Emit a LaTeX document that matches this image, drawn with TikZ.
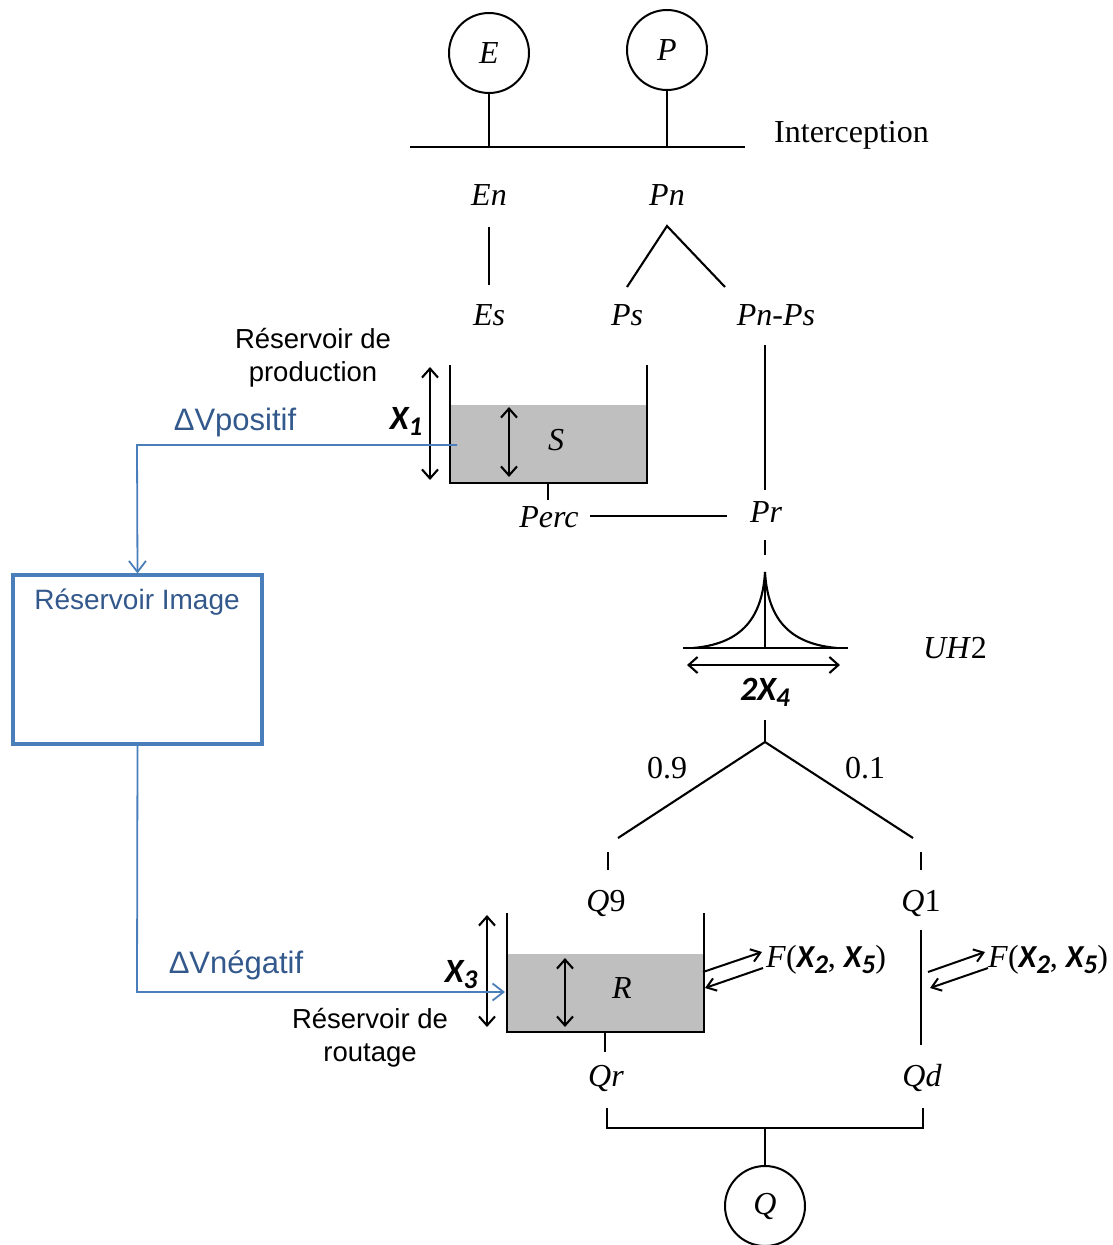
\documentclass[tikz,border=0pt]{standalone}
\usepackage{fontspec}
\setmainfont{Liberation Serif}
\setsansfont{Liberation Sans}
\newfontfamily\calfont{Carlito}
\usetikzlibrary{arrows.meta}
\definecolor{lineblue}{RGB}{74,126,187}
\definecolor{textblue}{RGB}{50,88,140}
\definecolor{resgray}{RGB}{191,191,191}
\newcommand{\Xs}[1]{{\calfont\bfseries\itshape X\raisebox{-6pt}{\fontsize{27}{27}\selectfont #1}}}
\begin{document}
\begin{tikzpicture}[x=1pt,y=-1pt,
  ln/.style={line width=2.1pt, black},
  dar/.style={line width=2.1pt, {Straight Barb[length=9pt,width=16pt,line width=2.1pt]}-{Straight Barb[length=9pt,width=16pt,line width=2.1pt]}},
  sar/.style={line width=2pt, -{Straight Barb[length=9pt,width=13pt,line width=2pt]}},
  bl/.style={line width=1.8pt, lineblue, -{Straight Barb[length=11pt,width=17pt,line width=1.8pt]}},
  circ/.style={circle, draw, line width=2pt, minimum size=80pt, inner sep=0pt, font=\fontsize{32}{34}\selectfont\itshape},
  lab/.style={inner sep=0pt, font=\fontsize{32}{34}\selectfont},
  ilab/.style={inner sep=0pt, font=\fontsize{32}{34}\selectfont\itshape},
  slab/.style={inner sep=0pt, align=center, font=\sffamily\fontsize{27.5}{33}\selectfont},
  blab/.style={inner sep=0pt, text=textblue, font=\sffamily\fontsize{28}{33}\selectfont},
  dlab/.style={inner sep=0pt, text=textblue, font=\sffamily\fontsize{31}{33}\selectfont},
  xlab/.style={inner sep=0pt, font=\fontsize{34}{36}\selectfont},
  imgbox/.style={draw=lineblue, line width=3.2pt, minimum width=249pt, minimum height=169pt, inner sep=0pt}
]
\useasboundingbox (0,0) rectangle (1113,1245);

% --- inputs and interception
\node[circ] (E) at (489,53) {E};
\node[circ] (P) at (667,50) {P};
\coordinate (iL) at (410,147);
\coordinate (iR) at (745,147);
\draw[ln] (iL) -- (iR);
\draw[ln] (E.south) -- (E.south |- iL);
\draw[ln] (P.south) -- (P.south |- iL);
\node[lab, anchor=west] (interc) at (774,135) {Interception};

\node[ilab] (En) at (489,195) {En};
\node[ilab] (Pn) at (667,195) {Pn};
\coordinate (enA) at (489,227); \coordinate (enB) at (489,285);
\draw[ln] (enA) -- (enB);
\coordinate (pnApex) at (667,226);
\coordinate (psTop) at (627,287);
\coordinate (pnpsTop) at (725,287);
\draw[ln] (psTop) -- (pnApex) -- (pnpsTop);
\node[ilab] (Es) at (489,315) {Es};
\node[ilab] (Ps) at (627,315) {Ps};
\node[ilab] (PnPs) at (776,315) {Pn-Ps};

% --- production reservoir
\fill[resgray] (450,405) rectangle (647,483);
\coordinate (sTL) at (450,365); \coordinate (sBL) at (450,483);
\coordinate (sBR) at (647,483); \coordinate (sTR) at (647,365);
\draw[ln] (sTL) -- (sBL) -- (sBR) -- (sTR);
\coordinate (sStub) at (548,483); \coordinate (sStubB) at (548,500);
\draw[ln] (sStub) -- (sStubB);
\coordinate (x1a) at (430,367); \coordinate (x1b) at (430,480);
\draw[dar] (x1a) -- (x1b);
\coordinate (sa) at (509,407); \coordinate (sb) at (509,477);
\draw[dar] (sa) -- (sb);
\node[ilab] (S) at (556,440) {S};
\node[xlab] (X1) at (406,421) {\Xs{1}};
\node[slab] (resprod) at (313,358) {Réservoir de\\production};

\node[ilab] (Perc) at (549,517) {Perc};
\node[ilab] (Pr) at (766,512) {Pr};
\coordinate (percR) at (590,516); \coordinate (prL) at (727,516);
\draw[ln] (percR) -- (prL);
\coordinate (pnpsB) at (765,345); \coordinate (prT) at (765,490);
\draw[ln] (pnpsB) -- (prT);
\coordinate (prB1) at (765,540); \coordinate (prB2) at (765,555);
\draw[ln] (prB1) -- (prB2);

% --- UH2
\coordinate (uhTop) at (765,572);
\coordinate (uhBase) at (765,648);
\coordinate (uhL) at (683,648); \coordinate (uhR) at (848,648);
\draw[ln] (uhL) -- (uhR);
\draw[ln] (uhTop) -- (uhBase);
\draw[ln] (693,648) .. controls (738,644) and (762,622) .. (uhTop);
\draw[ln] (837,648) .. controls (792,644) and (768,622) .. (uhTop);
\coordinate (x4a) at (687,665); \coordinate (x4b) at (840,665);
\draw[dar] (x4a) -- (x4b);
\node[xlab] (X4) at (765,692) {{\calfont\bfseries\itshape 2}\Xs{4}};
\node[ilab] (UH) at (955,648) {UH\textup{2}};

% --- split
\coordinate (spT) at (765,720); \coordinate (spApex) at (765,742);
\coordinate (spL) at (618,838); \coordinate (spR) at (913,838);
\draw[ln] (spT) -- (spApex);
\draw[ln] (spL) -- (spApex) -- (spR);
\node[lab] (n09) at (667,768) {0.9};
\node[lab] (n01) at (865,768) {0.1};
\coordinate (q9a) at (608,852); \coordinate (q9b) at (608,870);
\coordinate (q1a) at (921,852); \coordinate (q1b) at (921,870);
\draw[ln] (q9a) -- (q9b);
\draw[ln] (q1a) -- (q1b);
\node[lab] (Q9) at (606,903) {\textit{Q}9};
\node[lab] (Q1) at (921,903) {\textit{Q}1};

% --- routing reservoir
\fill[resgray] (507,954) rectangle (704,1032);
\coordinate (rTL) at (507,913); \coordinate (rBL) at (507,1032);
\coordinate (rBR) at (704,1032); \coordinate (rTR) at (704,913);
\draw[ln] (rTL) -- (rBL) -- (rBR) -- (rTR);
\coordinate (rStub) at (605,1032); \coordinate (rStubB) at (605,1052);
\draw[ln] (rStub) -- (rStubB);
\coordinate (x3a) at (487,915); \coordinate (x3b) at (487,1027);
\draw[dar] (x3a) -- (x3b);
\coordinate (ra) at (565,958); \coordinate (rb) at (565,1027);
\draw[dar] (ra) -- (rb);
\node[ilab] (R) at (622,988) {R};
\node[xlab] (X3) at (461,975) {\Xs{3}};
\node[slab] (resrout) at (370,1038) {Réservoir de\\routage};

% exchange arrows
\coordinate (f1a) at (703,972); \coordinate (f1b) at (762,952);
\coordinate (f2a) at (763,968); \coordinate (f2b) at (705,988);
\draw[sar] (f1a) -- (f1b);
\draw[sar] (f2a) -- (f2b);
\node[lab, anchor=west] (F1) at (766,960) {\textit{F}(\Xs{2}, \Xs{5})};
\coordinate (g1a) at (928,972); \coordinate (g1b) at (985,952);
\coordinate (g2a) at (988,968); \coordinate (g2b) at (930,988);
\draw[sar] (g1a) -- (g1b);
\draw[sar] (g2a) -- (g2b);
\node[lab, anchor=west] (F2) at (988,960) {\textit{F}(\Xs{2}, \Xs{5})};

\coordinate (q1l1) at (921,930); \coordinate (q1l2) at (921,1045);
\draw[ln] (q1l1) -- (q1l2);
\node[ilab] (Qr) at (606,1078) {Qr};
\node[ilab] (Qd) at (922,1078) {Qd};

% --- outlet
\node[circ] (Q) at (765,1206) {Q};
\coordinate (bL) at (607,1108); \coordinate (bLb) at (607,1128);
\coordinate (bR) at (923,1108); \coordinate (bRb) at (923,1128);
\coordinate (bM) at (765,1128);
\draw[ln] (bL) -- (bLb) -- (bRb) -- (bR);
\draw[ln] (bM) -- (Q.north);

% --- image reservoir
\node[imgbox] (img) at (137.5,659.5) {};
\node[blab] (imgtxt) at (137,602) {Réservoir Image};
\coordinate (sIn) at (457,445);
\coordinate (rIn) at (505,992);
\draw[bl] (sIn) -- (137,445) -- (img.north);
\draw[bl] (img.south) -- (137,992) -- (rIn);
\node[dlab] (dvp) at (235,422) {ΔVpositif};
\node[dlab] (dvn) at (236,965) {ΔVnégatif};
\end{tikzpicture}
\end{document}
